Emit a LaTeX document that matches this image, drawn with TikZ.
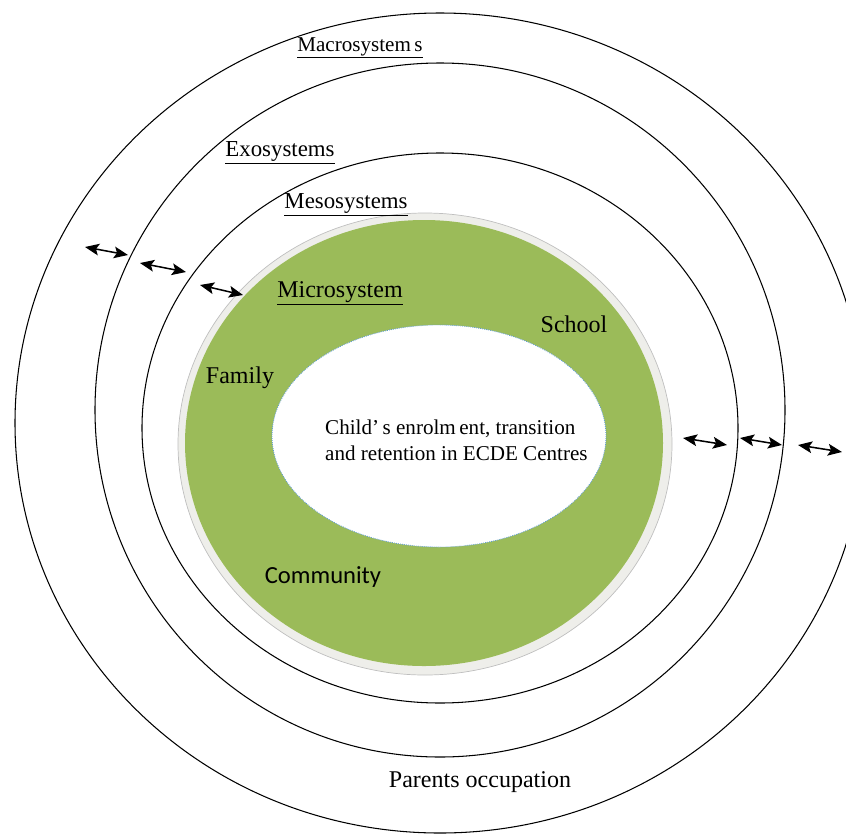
\documentclass[tikz,border=0pt]{standalone}
\usepackage{fontspec}
\setmainfont{Liberation Serif}
\newfontfamily\calibrifont{Carlito}
\usetikzlibrary{arrows.meta}
\definecolor{microgreen}{HTML}{9BBB59}
\definecolor{bevelgrey}{HTML}{EEEEEA}
\definecolor{dotblue}{HTML}{5B9BD5}
\tikzset{
  layer/.style={line width=0.9pt},
  twoway/.style={{Stealth[length=12pt,width=10pt,inset=2.5pt]}-{Stealth[length=12pt,width=10pt,inset=2.5pt]}, line width=1.3pt},
  sysname/.style={font=\fontsize{19.5}{23}\selectfont, inner sep=1pt},
  ringname/.style={font=\fontsize{20.5}{24}\selectfont, inner sep=1pt},
}
\begin{document}
\begin{tikzpicture}[x=0.03cm, y=-0.03cm]
  \useasboundingbox (0,0) rectangle (846,835);
  \draw [layer] (440,423) ellipse [x radius=425, y radius=410];
  \draw [layer] (440,410) ellipse [x radius=345, y radius=347];
  \draw [layer] (440,428) ellipse [x radius=298, y radius=275];
  \filldraw [fill=bevelgrey, draw=black!25, line width=0.6pt] (425,444) ellipse [x radius=247, y radius=231];
  \fill [microgreen] (424,443) ellipse [x radius=239, y radius=223];
  \filldraw [fill=white, draw=dotblue, densely dotted, line width=0.7pt] (439,436) ellipse [x radius=167, y radius=111];
  \node [sysname, font=\fontsize{18}{22}\selectfont] (macro) at (360,48) {\underline{Macrosystem\,s}};
  \node [sysname] (exo) at (280,153) {\underline{Exosystems}};
  \node [sysname] (meso) at (346,205) {\underline{Mesosystems}};
  \node [ringname] (micro) at (340,293) {\underline{Microsystem}};
  \node [ringname] (school) at (574,324) {School};
  \node [ringname] (family) at (240,378) {Family};
  \node [ringname, font=\calibrifont\fontsize{21}{24}\selectfont] (community) at (323,577) {Community};
  \node [sysname, font=\fontsize{18}{22}\selectfont, align=left, anchor=west, inner sep=0pt] (child) at (325,440) {Child’\,s enrolm\,ent, transition\\and retention in ECDE Centres};
  \node [sysname, font=\fontsize{20.5}{24}\selectfont] (parents) at (480,782) {Parents occupation};
  \coordinate (wa1) at (85,247);
  \coordinate (wa2) at (128,255);
  \coordinate (wb1) at (140,263);
  \coordinate (wb2) at (186,272);
  \coordinate (wc1) at (200,285);
  \coordinate (wc2) at (243,295);
  \coordinate (ea1) at (683,438);
  \coordinate (ea2) at (727,445);
  \coordinate (eb1) at (740,438);
  \coordinate (eb2) at (782,445);
  \coordinate (ec1) at (798,445);
  \coordinate (ec2) at (842,452);
  \draw [twoway] (wa1) -- (wa2);
  \draw [twoway] (wb1) -- (wb2);
  \draw [twoway] (wc1) -- (wc2);
  \draw [twoway] (ea1) -- (ea2);
  \draw [twoway] (eb1) -- (eb2);
  \draw [twoway] (ec1) -- (ec2);
\end{tikzpicture}
\end{document}
